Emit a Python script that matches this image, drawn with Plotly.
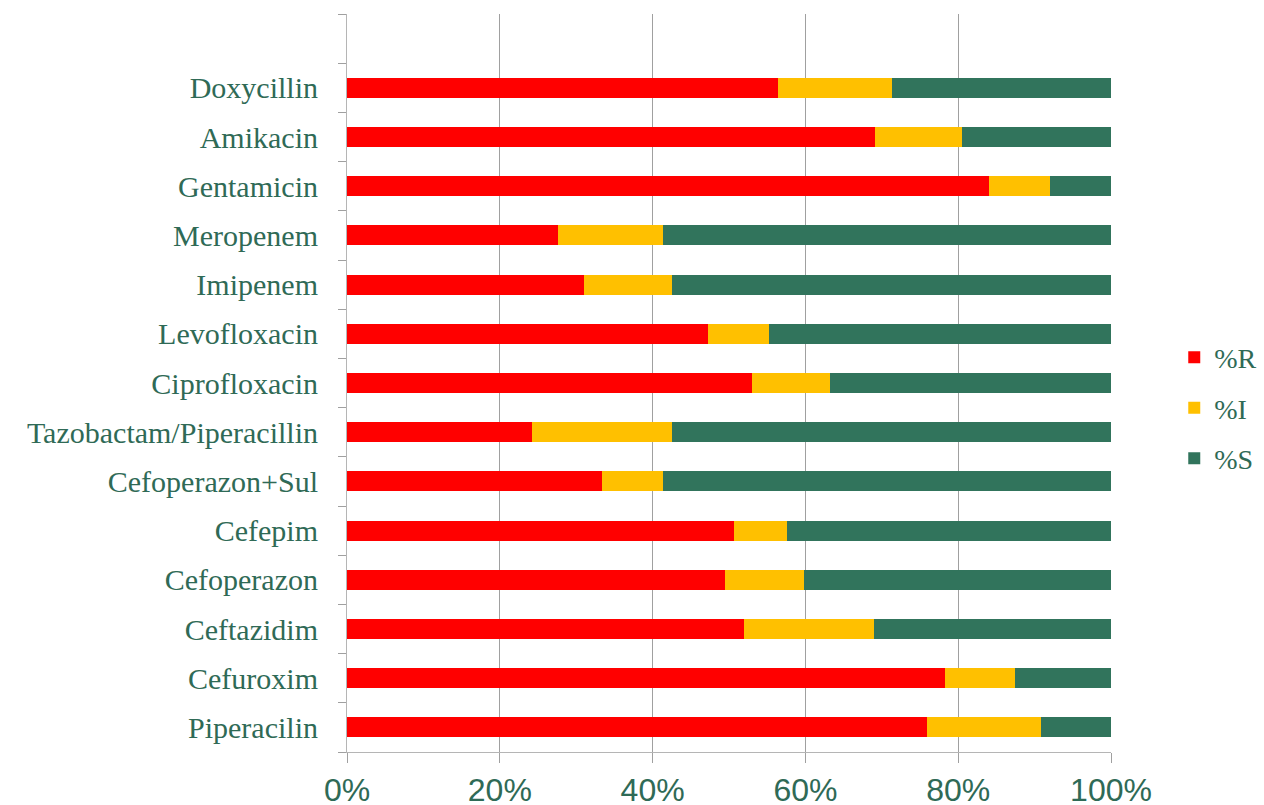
import plotly.graph_objects as go

drugs = ["Piperacilin", "Cefuroxim", "Ceftazidim", "Cefoperazon", "Cefepim",
         "Cefoperazon+Sul", "Tazobactam/Piperacillin", "Ciprofloxacin",
         "Levofloxacin", "Imipenem", "Meropenem", "Gentamicin", "Amikacin",
         "Doxycillin"]
pct_R = [75.9, 78.3, 52.0, 49.5, 50.7, 33.4, 24.2, 53.0, 47.3, 31.0, 27.6, 84.0, 69.1, 56.4]
pct_I = [14.9, 9.1, 17.0, 10.3, 6.9, 8.0, 18.3, 10.2, 7.9, 11.5, 13.8, 8.0, 11.4, 14.9]
pct_S = [9.2, 12.6, 31.0, 40.2, 42.4, 58.6, 57.5, 36.8, 44.8, 57.5, 58.6, 8.0, 19.5, 28.7]
series_names = ["%R", "%I", "%S"]
colors = ["#FF0000", "#FFC000", "#31745C"]
x_ticks = [0, 0.2, 0.4, 0.6, 0.8, 1.0]
x_tick_labels = ["0%", "20%", "40%", "60%", "80%", "100%"]

txt = "#2F6A56"
fig = go.Figure()
for i, (name, vals) in enumerate(zip(series_names, [pct_R, pct_I, pct_S])):
    fig.add_trace(go.Bar(
        y=drugs, x=[v / 100 for v in vals], name=name, orientation="h",
        marker=dict(color=colors[i], line=dict(width=0)),
        width=0.41, legendgroup=name,
    ))

fig.update_layout(
    barmode="stack",
    width=1264, height=805,
    margin=dict(l=347, r=153, t=14, b=53, autoexpand=False),
    plot_bgcolor="white", paper_bgcolor="white",
    showlegend=True,
    legend=dict(xref="container", yref="container",
                x=0.929, xanchor="left", y=0.493, yanchor="middle",
                traceorder="grouped", tracegroupgap=11,
                font=dict(family="Liberation Serif", size=28, color=txt),
                bgcolor="rgba(0,0,0,0)"),
    xaxis=dict(range=[0, 1], tickvals=x_ticks, ticktext=x_tick_labels,
               automargin=False,
               showgrid=True, gridcolor="#A0A0A0", gridwidth=1,
               showline=True, linecolor="#B5B5B5", linewidth=1,
               ticks="outside", ticklen=10, tickcolor="#A0A0A0",
               zeroline=False,
               tickfont=dict(family="Liberation Sans", size=32, color=txt)),
    yaxis=dict(type="category", categoryorder="array",
               categoryarray=drugs + [" "], automargin=False,
               range=[-0.5, 14.5], tickson="boundaries",
               showline=True, linecolor="#B5B5B5", linewidth=1,
               ticks="outside", ticklen=8, tickcolor="#A0A0A0",
               showgrid=False, zeroline=False, ticklabelstandoff=22,
               tickfont=dict(family="Liberation Serif", size=30, color=txt)),
)
fig.write_html("out.html")
